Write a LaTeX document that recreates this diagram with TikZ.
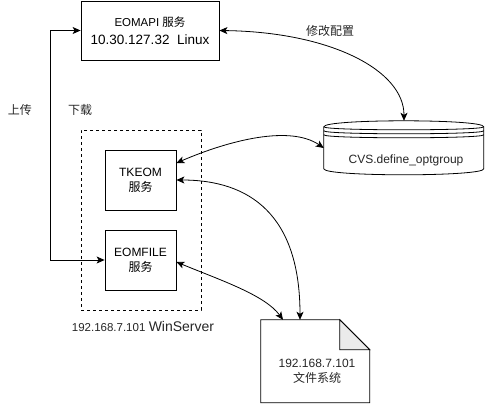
\documentclass[tikz,border=0pt]{standalone}
\usepackage{fontspec}
\setmainfont{Liberation Sans}
\newfontfamily\cjk{Noto Sans CJK SC}
\usetikzlibrary{arrows.meta}

\tikzset{
  svc/.style={draw,line width=0.8pt,minimum width=71pt,minimum height=60pt,align=center,inner sep=0pt},
  both/.style={line width=0.8pt,{Stealth[length=8pt,width=7pt,inset=2pt]}-{Stealth[length=8pt,width=7pt,inset=2pt]}},
  txt/.style={text=black!85}
}

\begin{document}
\begin{tikzpicture}[x=1pt,y=-1pt,font=\fontsize{12}{15}\selectfont]
\useasboundingbox (0,0) rectangle (485,405);

% Linux server
\node[svc,minimum width=138pt,minimum height=59pt] (api) at (150,30.5)
  {{\fontsize{11.5}{13}\selectfont EOMAPI {\cjk 服务}}\\[3pt]{\fontsize{13.5}{16}\selectfont 10.30.127.32\ \ Linux}};

% WinServer group
\node[draw,line width=0.8pt,dash pattern=on 3pt off 3pt,minimum width=120pt,minimum height=180pt] (win) at (141,220) {};
\node[svc] (tk) at (140.5,180) {TKEOM\\{\cjk 服务}};
\node[svc] (ef) at (140.5,260) {EOMFILE\\{\cjk 服务}};
\node[txt] (winlbl) at (143,326) {{\fontsize{11.5}{13}\selectfont 192.168.7.101} {\fontsize{14}{16}\selectfont WinServer}};

% datastore
\node[minimum width=160pt,minimum height=54pt,inner sep=0pt] (cvs) at (404,148) {};
\begin{scope}[shift={(cvs.north west)},line width=0.8pt]
  \draw[fill=white] (0,6) .. controls (0,-2) and (160,-2) .. (160,6) -- (160,48)
     .. controls (160,56) and (0,56) .. (0,48) -- cycle;
  \draw (0,6) .. controls (0,10) and (160,10) .. (160,6);
  \draw (0,10) .. controls (0,14) and (160,14) .. (160,10);
  \draw (0,14) .. controls (0,18) and (160,18) .. (160,14);
\end{scope}
\node[txt] (cvslbl) at (406,160) {CVS.define\_optgroup};

% file system
\node[minimum width=109pt,minimum height=83pt,inner sep=0pt] (doc) at (315.5,361.5) {};
\begin{scope}[shift={(doc.north west)},line width=0.8pt]
  \draw (0,0) -- (79,0) -- (109,30) -- (109,83) -- (0,83) -- cycle;
  \draw[fill=black!8] (79,0) -- (79,30) -- (109,30) -- cycle;
\end{scope}
\node[txt,align=center] (doclbl) at (317,371) {192.168.7.101\\{\cjk 文件系统}};

% labels
\node[txt] (up) at (20,110) {\cjk 上传};
\node[txt] (down) at (80,110) {\cjk 下载};
\node[txt] (cfg) at (330,31) {\cjk 修改配置};

% connectors
\draw[both] (api.west) -- ++(-30,0) |- (ef.west);
\draw[both] (api.east) .. controls (330,32) and (404,70) .. (cvs.north);
\draw[both] ([yshift=17pt]tk.east) .. controls (230,140) and (290,125) .. (cvs.west);
\draw[both] (tk.east) .. controls (250,180) and (300,215) .. ([xshift=-15.5pt]doc.north);
\draw[both] ([yshift=-2pt]ef.east) .. controls (220,280) and (265,295) .. ([xshift=-32.5pt]doc.north);
\end{tikzpicture}
\end{document}
